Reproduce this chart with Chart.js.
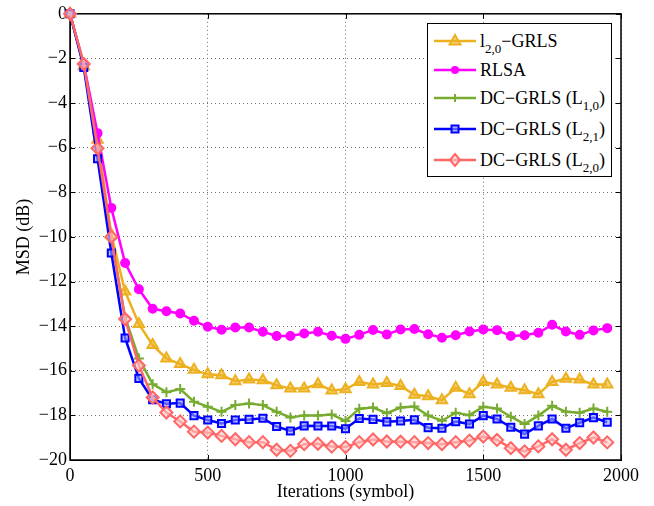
<!DOCTYPE html>
<html>
<head>
<meta charset="utf-8">
<script src="https://cdn.jsdelivr.net/npm/chart.js@4"></script>
<style>
  body { margin: 0; background: #fff; }
  #wrap { position: relative; width: 654px; height: 506px; }
  #legend {
    position: absolute; left: 427px; top: 23px; width: 185px; height: 154px;
    border: 1px solid #000; background: #fff; box-sizing: border-box;
    font-family: 'Liberation Serif', 'DejaVu Serif', serif; font-size: 18px; color: #000;
  }
  .row { position: absolute; left: 0; height: 22px; line-height: 22px; white-space: nowrap; }
  .row svg { position: absolute; left: 6px; top: 1px; }
  .row span { position: absolute; left: 52px; top: 0; }
  sub { font-size: 13px; vertical-align: -6px; line-height: 0; }
</style>
</head>
<body>
<div id="wrap">
  <canvas id="chart" width="654" height="506"></canvas>
  <div id="legend"></div>
</div>
<script>
// ─── Data ───
const iterations = [0, 50, 100, 150, 200, 250, 300, 350, 400, 450,
  500, 550, 600, 650, 700, 750, 800, 850, 900, 950,
  1000, 1050, 1100, 1150, 1200, 1250, 1300, 1350, 1400, 1450,
  1500, 1550, 1600, 1650, 1700, 1750, 1800, 1850, 1900, 1950];

const l20GRLS = [0, -2.35, -5.65, -9.9, -12.45, -13.9, -14.85, -15.45, -15.7, -15.96,
  -16.16, -16.2, -16.47, -16.39, -16.43, -16.65, -16.8, -16.79, -16.6, -16.88,
  -16.83, -16.5, -16.62, -16.55, -16.68, -17.08, -17.14, -17.32, -16.76, -17.05,
  -16.5, -16.62, -16.76, -16.87, -17.05, -16.5, -16.36, -16.39, -16.62, -16.62];

const rlsa = [0, -2.25, -5.35, -8.7, -11.17, -12.35, -13.22, -13.33, -13.43, -13.76,
  -14.03, -14.16, -14.06, -14.06, -14.25, -14.44, -14.44, -14.33, -14.25, -14.43,
  -14.57, -14.39, -14.17, -14.37, -14.15, -14.13, -14.36, -14.52, -14.41, -14.24,
  -14.15, -14.18, -14.44, -14.41, -14.3, -13.94, -14.24, -14.39, -14.19, -14.09];

const dcL10 = [0, -2.3, -6.0, -10.1, -13.6, -15.45, -16.6, -16.96, -16.82, -17.39,
  -17.61, -17.84, -17.54, -17.47, -17.54, -17.84, -18.09, -18.0, -18.0, -17.96,
  -18.25, -17.7, -17.65, -17.9, -17.65, -17.6, -18.01, -18.24, -17.88, -17.99,
  -17.61, -17.69, -18.06, -18.39, -18.01, -17.57, -17.84, -17.88, -17.69, -17.84];

const dcL21 = [0, -2.4, -6.5, -10.72, -14.53, -16.34, -17.3, -17.48, -17.45, -18.01,
  -18.21, -18.36, -18.21, -18.18, -18.13, -18.5, -18.7, -18.47, -18.48, -18.48,
  -18.6, -18.14, -18.18, -18.29, -18.25, -18.2, -18.55, -18.58, -18.28, -18.39,
  -18.01, -18.16, -18.53, -18.84, -18.47, -18.16, -18.58, -18.33, -18.1, -18.31];

const dcL20 = [0, -2.25, -6.03, -10.0, -13.68, -15.76, -17.2, -17.87, -18.27, -18.73,
  -18.77, -18.92, -19.07, -19.2, -19.2, -19.54, -19.59, -19.29, -19.27, -19.4,
  -19.42, -19.2, -19.08, -19.17, -19.18, -19.2, -19.24, -19.29, -19.2, -19.13,
  -18.95, -19.1, -19.47, -19.61, -19.39, -19.07, -19.54, -19.24, -18.99, -19.21];

const xTicks = { min: 0, max: 2000, step: 500 };
const yTicks = { min: -20, max: 0, step: 2 };

// ─── Styles ───
const FONT = "'Liberation Serif', 'DejaVu Serif', serif";
const C = {
  orange: '#EDB120',
  magenta: '#FF00FF',
  green: '#77AC30',
  blue: '#0000FF',
  salmon: '#FF6666',
};

function series(label, values, color, extra) {
  return {
    label,
    data: iterations.map((x, i) => ({ x, y: values[i] })),
    borderColor: color,
    borderWidth: 2.5,
    pointBorderColor: color,
    pointBorderWidth: 2,
    clip: false,
    ...extra,
  };
}

const datasets = [
  series('l2,0-GRLS', l20GRLS, C.orange, { pointStyle: 'triangle', pointRadius: 6, pointBackgroundColor: 'rgba(237,177,32,0.55)', order: 5 }),
  series('RLSA', rlsa, C.magenta, { pointStyle: 'circle', pointRadius: 4, pointBackgroundColor: C.magenta, order: 4 }),
  series('DC-GRLS (L1,0)', dcL10, C.green, { pointStyle: 'cross', pointRadius: 5, pointBorderWidth: 2, order: 3 }),
  series('DC-GRLS (L2,1)', dcL21, C.blue, { pointStyle: 'rect', pointRadius: 5, pointBackgroundColor: 'rgba(150,160,255,0.6)', order: 2 }),
  series('DC-GRLS (L2,0)', dcL20, C.salmon, { pointStyle: 'rectRot', pointRadius: 6, pointBackgroundColor: 'rgba(255,200,200,0.6)', order: 1 }),
];

// ─── Box frame + inward ticks (MATLAB look) ───
const frame = {
  id: 'frame',
  beforeDatasetsDraw(chart) {
    const { ctx, chartArea: a, scales: { x, y } } = chart;
    const len = 5;
    ctx.save();
    ctx.strokeStyle = '#000';
    ctx.lineWidth = 1;
    ctx.beginPath();
    for (let v = xTicks.min; v <= xTicks.max; v += xTicks.step) {
      const px = Math.round(x.getPixelForValue(v)) + 0.5;
      ctx.moveTo(px, a.bottom); ctx.lineTo(px, a.bottom - len);
      ctx.moveTo(px, a.top); ctx.lineTo(px, a.top + len);
    }
    for (let v = yTicks.min; v <= yTicks.max; v += yTicks.step) {
      const py = Math.round(y.getPixelForValue(v)) + 0.5;
      ctx.moveTo(a.left, py); ctx.lineTo(a.left + len, py);
      ctx.moveTo(a.right, py); ctx.lineTo(a.right - len, py);
    }
    ctx.stroke();
    ctx.lineWidth = 1.5;
    ctx.strokeRect(a.left, a.top, a.right - a.left, a.bottom - a.top);
    ctx.restore();
  }
};

const minus = v => (v < 0 ? '\u2212' + Math.abs(v) : String(v));
const tickFont = { family: FONT, size: 18 };

new Chart(document.getElementById('chart'), {
  type: 'line',
  data: { datasets },
  options: {
    responsive: false,
    animation: false,
    layout: { padding: { left: 0, top: 12, right: 33, bottom: 0 } },
    plugins: { legend: { display: false }, tooltip: { enabled: false } },
    elements: { line: { tension: 0 } },
    scales: {
      x: {
        type: 'linear',
        min: xTicks.min, max: xTicks.max,
        afterFit: s => { s.height = 46; },
        grid: { color: '#6e6e6e', lineWidth: 1, drawTicks: false },
        border: { display: true, color: '#000', dash: [1, 3] },
        ticks: { stepSize: xTicks.step, padding: 5, color: '#000', font: tickFont, maxRotation: 0, callback: v => String(v) },
        title: { display: true, text: 'Iterations (symbol)', color: '#000', font: tickFont, padding: { top: 0, bottom: 3 } },
      },
      y: {
        min: yTicks.min, max: yTicks.max,
        afterFit: s => { s.width = 70; },
        grid: { color: '#6e6e6e', lineWidth: 1, drawTicks: false },
        border: { display: true, color: '#000', dash: [1, 3] },
        ticks: { stepSize: yTicks.step, padding: 3, color: '#000', font: tickFont, callback: minus },
        title: { display: true, text: 'MSD (dB)', color: '#000', font: tickFont, padding: { top: 13, bottom: 0 } },
      },
    },
  },
  plugins: [frame],
});

// ─── Legend (HTML, with subscripts) ───
const legendItems = [
  { html: 'l<sub>2,0</sub>\u2212GRLS', color: C.orange, mark: 'tri' },
  { html: 'RLSA', color: C.magenta, mark: 'circ' },
  { html: 'DC\u2212GRLS (L<sub>1,0</sub>)', color: C.green, mark: 'plus' },
  { html: 'DC\u2212GRLS (L<sub>2,1</sub>)', color: C.blue, mark: 'sq' },
  { html: 'DC\u2212GRLS (L<sub>2,0</sub>)', color: C.salmon, mark: 'dia' },
];
const rowCenters = [17, 46, 74, 105, 136];

function markSvg(kind, c) {
  const cx = 21, cy = 10;
  switch (kind) {
    case 'tri': return `<polygon points="${cx},${cy - 6} ${cx + 5.5},${cy + 3.5} ${cx - 5.5},${cy + 3.5}" fill="rgba(237,177,32,0.55)" stroke="${c}" stroke-width="2"/>`;
    case 'circ': return `<circle cx="${cx}" cy="${cy}" r="4" fill="${c}"/>`;
    case 'plus': return `<path d="M${cx - 4} ${cy}H${cx + 4}M${cx} ${cy - 4}V${cy + 4}" stroke="${c}" stroke-width="2"/>`;
    case 'sq': return `<rect x="${cx - 3.5}" y="${cy - 3.5}" width="7" height="7" fill="rgba(150,160,255,0.6)" stroke="${c}" stroke-width="2"/>`;
    case 'dia': return `<polygon points="${cx},${cy - 6} ${cx + 5},${cy} ${cx},${cy + 6} ${cx - 5},${cy}" fill="rgba(255,200,200,0.6)" stroke="${c}" stroke-width="2"/>`;
  }
  return '';
}

const legend = document.getElementById('legend');
legendItems.forEach((it, i) => {
  const row = document.createElement('div');
  row.className = 'row';
  row.style.top = (rowCenters[i] - 11) + 'px';
  row.innerHTML = `<svg width="42" height="20"><line x1="0" y1="10" x2="42" y2="10" stroke="${it.color}" stroke-width="2.5"/>${markSvg(it.mark, it.color)}</svg><span>${it.html}</span>`;
  legend.appendChild(row);
});
</script>
</body>
</html>
